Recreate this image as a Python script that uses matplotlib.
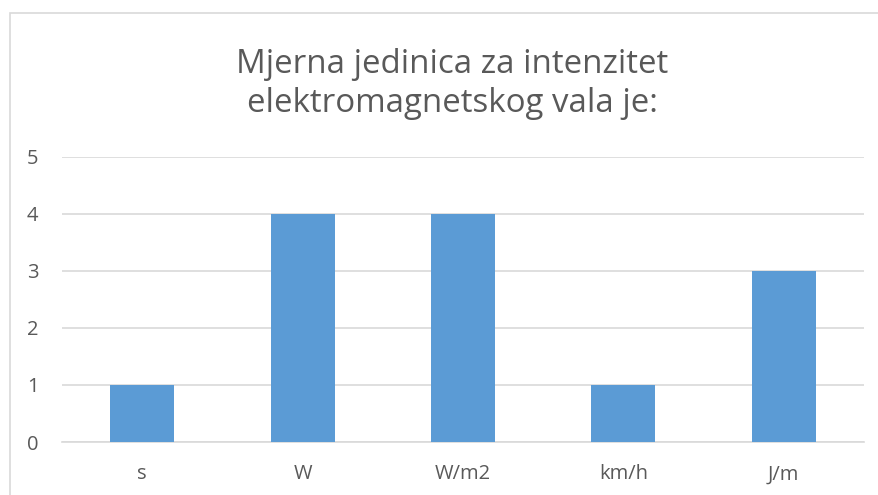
import matplotlib.pyplot as plt
from matplotlib.patches import Rectangle

categories = ['s', 'W', 'W/m2', 'km/h', 'J/m']
values = [1, 4, 4, 1, 3]
title = 'Mjerna jedinica za intenzitet\nelektromagnetskog vala je:'

plt.rcParams['font.family'] = ['Open Sans', 'DejaVu Sans']

fig = plt.figure(figsize=(8.79, 4.95), dpi=100)
ax = fig.add_axes([62 / 879, 1 - 442 / 495, 802 / 879, 285 / 495])

# chart border like the office chart frame
fig.patches.append(Rectangle((10 / 879, -0.1), 1.2, 1 - 13 / 495 + 0.1,
                             transform=fig.transFigure, fill=False,
                             edgecolor='#d9d9d9', linewidth=1.2))

x = range(len(categories))
ax.bar(x, values, width=0.4, color='#5b9bd5', zorder=3)

ax.set_xlim(-0.5, len(categories) - 0.5)
ax.set_ylim(0, 5)
ax.set_yticks(range(6))
ax.set_xticks(list(x))
ax.set_xticklabels(categories)
ax.grid(axis='y', color='#d9d9d9', linewidth=1.2, zorder=0)
for side in ['top', 'right', 'left']:
    ax.spines[side].set_visible(False)
ax.spines['bottom'].set_color('#d9d9d9')
ax.spines['bottom'].set_linewidth(1.2)
ax.tick_params(length=0, colors='#595959', labelsize=14.5)
ax.tick_params(axis='x', pad=16)
ax.tick_params(axis='y', pad=17)

fig.text(452 / 879, 1 - 84 / 495, title, ha='center', va='center',
         fontsize=23.8, color='#595959', linespacing=1.26)

fig.savefig('out.png', dpi=100)
